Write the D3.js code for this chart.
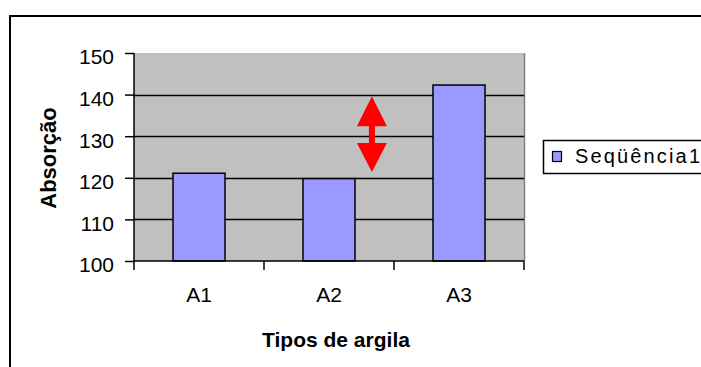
<!DOCTYPE html>
<html>
<head>
<meta charset="utf-8">
<script src="https://cdn.jsdelivr.net/npm/d3@7/dist/d3.min.js"></script>
<style>
  html, body { margin: 0; padding: 0; background: #ffffff; }
  svg { display: block; }
  text { font-family: "Liberation Sans", Arial, sans-serif; fill: #000; }
</style>
</head>
<body>
<svg id="chart" width="701" height="367"></svg>
<script>
// Absorption by clay type
const categories = ["A1", "A2", "A3"];
const values = [121.1, 119.8, 142.3];
const yTicks = [100, 110, 120, 130, 140, 150];
const seriesName = "Seqüência1";
const xTitle = "Tipos de argila";
const yTitle = "Absorção";
// Double arrow marking the spread, in data units
const arrowSpan = [121.4, 139.6];

const svg = d3.select("#chart");
const W = 701, H = 367;

// Chart frame (open to the right and bottom edge)
svg.append("rect")
  .attr("x", 10).attr("y", 16)
  .attr("width", 760).attr("height", 420)
  .attr("fill", "#fff")
  .attr("stroke", "#000").attr("stroke-width", 2);

const plot = { left: 134, top: 53, right: 524, bottom: 261 };

const x = d3.scaleBand()
  .domain(categories)
  .range([plot.left, plot.right])
  .paddingInner(0).paddingOuter(0);

const y = d3.scaleLinear()
  .domain([100, 150])
  .range([plot.bottom, plot.top]);

// Plot background
svg.append("rect")
  .attr("x", plot.left).attr("y", plot.top)
  .attr("width", plot.right - plot.left)
  .attr("height", plot.bottom - plot.top)
  .attr("fill", "#c0c0c0");

// Right edge of plot area
svg.append("line")
  .attr("x1", plot.right + 0.5).attr("x2", plot.right + 0.5)
  .attr("y1", plot.top).attr("y2", plot.bottom)
  .attr("stroke", "#808080").attr("stroke-width", 1.5);

// Gridlines
svg.append("g")
  .selectAll("line")
  .data(yTicks.filter(t => t > 100 && t < 150))
  .join("line")
  .attr("x1", plot.left).attr("x2", plot.right)
  .attr("y1", d => Math.round(y(d)) + 0.5)
  .attr("y2", d => Math.round(y(d)) + 0.5)
  .attr("stroke", "#000").attr("stroke-width", 1.5);

// Bars
const barW = x.bandwidth() * 0.4;
svg.append("g")
  .selectAll("rect")
  .data(categories.map((c, i) => ({ c, v: values[i] })))
  .join("rect")
  .attr("x", d => x(d.c) + (x.bandwidth() - barW) / 2)
  .attr("y", d => y(d.v))
  .attr("width", barW)
  .attr("height", d => y(100) - y(d.v))
  .attr("fill", "#9999ff")
  .attr("stroke", "#000").attr("stroke-width", 1.5);

// Y axis
const yAxis = d3.axisLeft(y)
  .tickValues(yTicks)
  .tickSize(9)
  .tickPadding(12)
  .tickFormat(d3.format("d"));
const gy = svg.append("g")
  .attr("transform", `translate(${plot.left},0)`)
  .call(yAxis);
gy.select(".domain").attr("stroke", "#000").attr("stroke-width", 1.5)
  .attr("d", `M0,${plot.top}V${plot.bottom}`);
gy.selectAll(".tick line").attr("stroke", "#000").attr("stroke-width", 1.5);
gy.selectAll(".tick text")
  .attr("font-size", 21)
  .attr("font-family", "Liberation Sans, Arial, sans-serif")
  .attr("dy", "0.52em")
  .attr("x", -20);

// X axis
const xAxis = d3.axisBottom(x).tickSize(0).tickPadding(26);
const gx = svg.append("g")
  .attr("transform", `translate(0,${plot.bottom})`)
  .call(xAxis);
gx.select(".domain").attr("stroke", "#000").attr("stroke-width", 1.5)
  .attr("d", `M${plot.left},0H${plot.right}`);
gx.selectAll(".tick text")
  .attr("font-size", 21)
  .attr("font-family", "Liberation Sans, Arial, sans-serif");
// Category boundary ticks
gx.append("g").selectAll("line")
  .data(categories.map(c => x(c)).concat([x(categories[categories.length - 1]) + x.bandwidth()]))
  .join("line")
  .attr("x1", d => d).attr("x2", d => d)
  .attr("y1", 0).attr("y2", 9)
  .attr("stroke", "#000").attr("stroke-width", 1.5);

// Axis titles
svg.append("text")
  .attr("x", 336).attr("y", 347)
  .attr("text-anchor", "middle")
  .attr("font-size", 21).attr("font-weight", "bold")
  .text(xTitle);

svg.append("text")
  .attr("transform", `translate(56,${(plot.top + plot.bottom) / 2 + 1}) rotate(-90)`)
  .attr("text-anchor", "middle")
  .attr("font-size", 22).attr("font-weight", "bold")
  .text(yTitle);

// Double-headed arrow
const ax = x("A2") + x.bandwidth() * 0.83;
const yTop = y(arrowSpan[1]);
const yBot = y(arrowSpan[0]);
const headH = 30, headW = 15, shaftW = 3;
const arrowPath = [
  [ax, yTop],
  [ax + headW, yTop + headH],
  [ax + shaftW, yTop + headH],
  [ax + shaftW, yBot - headH + 1],
  [ax + headW, yBot - headH + 1],
  [ax, yBot],
  [ax - headW, yBot - headH + 1],
  [ax - shaftW, yBot - headH + 1],
  [ax - shaftW, yTop + headH],
  [ax - headW, yTop + headH]
];
svg.append("path")
  .attr("d", d3.line()(arrowPath) + "Z")
  .attr("fill", "#ff0000");

// Legend
const lg = svg.append("g");
lg.append("rect")
  .attr("x", 543.5).attr("y", 140.5)
  .attr("width", 200).attr("height", 33)
  .attr("fill", "#fff").attr("stroke", "#000").attr("stroke-width", 1.5);
lg.append("rect")
  .attr("x", 552.5).attr("y", 151.5)
  .attr("width", 9).attr("height", 10)
  .attr("fill", "#9999ff").attr("stroke", "#000").attr("stroke-width", 1.2);
lg.append("text")
  .attr("x", 575).attr("y", 163)
  .attr("font-size", 20)
  .attr("textLength", 125)
  .attr("lengthAdjust", "spacing")
  .text(seriesName);
</script>
</body>
</html>
